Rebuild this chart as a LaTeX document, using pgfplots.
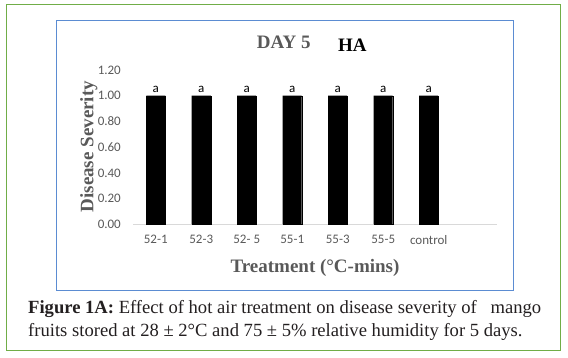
\documentclass[border=0pt]{standalone}
\usepackage{pgfplots}
\pgfplotsset{compat=1.18}
\usepackage{fontspec}
\setmainfont{Liberation Serif}
\newfontfamily\calibri{Carlito}
\definecolor{framegreen}{RGB}{112,173,71}
\definecolor{frameblue}{RGB}{91,140,210}
\definecolor{tickgray}{RGB}{89,89,89}
\definecolor{axgray}{RGB}{217,217,217}
\definecolor{captxt}{RGB}{35,31,32}
\begin{document}
\begin{tikzpicture}[x=1pt,y=1pt]
\useasboundingbox (0,0) rectangle (568,357);
\draw[framegreen, line width=1.5pt] (6.3,6.3) rectangle (560.3,352.3);
\draw[frameblue, line width=1pt] (56,66.3) rectangle (513,336);
\begin{axis}[
  at={(133pt,132.7pt)}, anchor=south west,
  scale only axis, width=364pt, height=154.3pt,
  xmin=-0.5, xmax=7.5, ymin=0, ymax=1.2,
  ybar, bar width=19pt,
  axis lines*=left,
  y axis line style={draw=none},
  x axis line style={draw=axgray, line width=0.8pt, -},
  major tick length=0pt,
  xtick={0,1,2,3,4,5,6},
  xticklabels={52-1,52-3,52- 5,55-1,55-3,55-5,control},
  ytick={0,0.2,0.4,0.6,0.8,1.0,1.2},
  /pgf/number format/fixed, /pgf/number format/fixed zerofill,
  /pgf/number format/precision=2, /pgf/number format/assume math mode=true,
  tick label style={font=\calibri\fontsize{13}{15}\selectfont, text=tickgray, inner sep=0pt},
  yticklabel style={anchor=east, xshift=-12pt},
  xticklabel style={anchor=north, yshift=-11pt},
  nodes near coords={a},
  every node near coord/.append style={font=\calibri\fontsize{13}{15}\selectfont, text=black, anchor=south, inner sep=0pt, yshift=3.2pt},
  clip=false,
]
\addplot[fill=black, draw=black] coordinates {(0,1.00) (1,1.00) (2,1.00) (3,1.00) (4,1.00) (5,1.00) (6,1.00)};
\end{axis}
\node[anchor=base west, inner sep=0pt, text=tickgray, font=\bfseries\fontsize{19}{22}\selectfont] at (256.7,308.7) {DAY 5};
\node[anchor=base west, inner sep=0pt, text=black, font=\bfseries\fontsize{19}{22}\selectfont] at (338,305.3) {HA};
\node[anchor=base, rotate=90, inner sep=0pt, text=tickgray, font=\bfseries\fontsize{19}{22}\selectfont] at (93.3,210.3) {Disease Severity};
\node[anchor=base, inner sep=0pt, text=tickgray, font=\bfseries\fontsize{19}{22}\selectfont] at (315,85) {Treatment (°C-mins)};
\node[anchor=base west, inner sep=0pt, text=captxt, font=\fontsize{18.6}{23}\selectfont] at (28,44) {\textbf{Figure 1A:} Effect of hot air treatment on disease severity of\hspace{9pt} mango};
\node[anchor=base west, inner sep=0pt, text=captxt, font=\fontsize{18.6}{23}\selectfont] at (28,21) {fruits stored at 28 ± 2°C and 75 ± 5\% relative humidity for 5 days.};
\end{tikzpicture}
\end{document}
